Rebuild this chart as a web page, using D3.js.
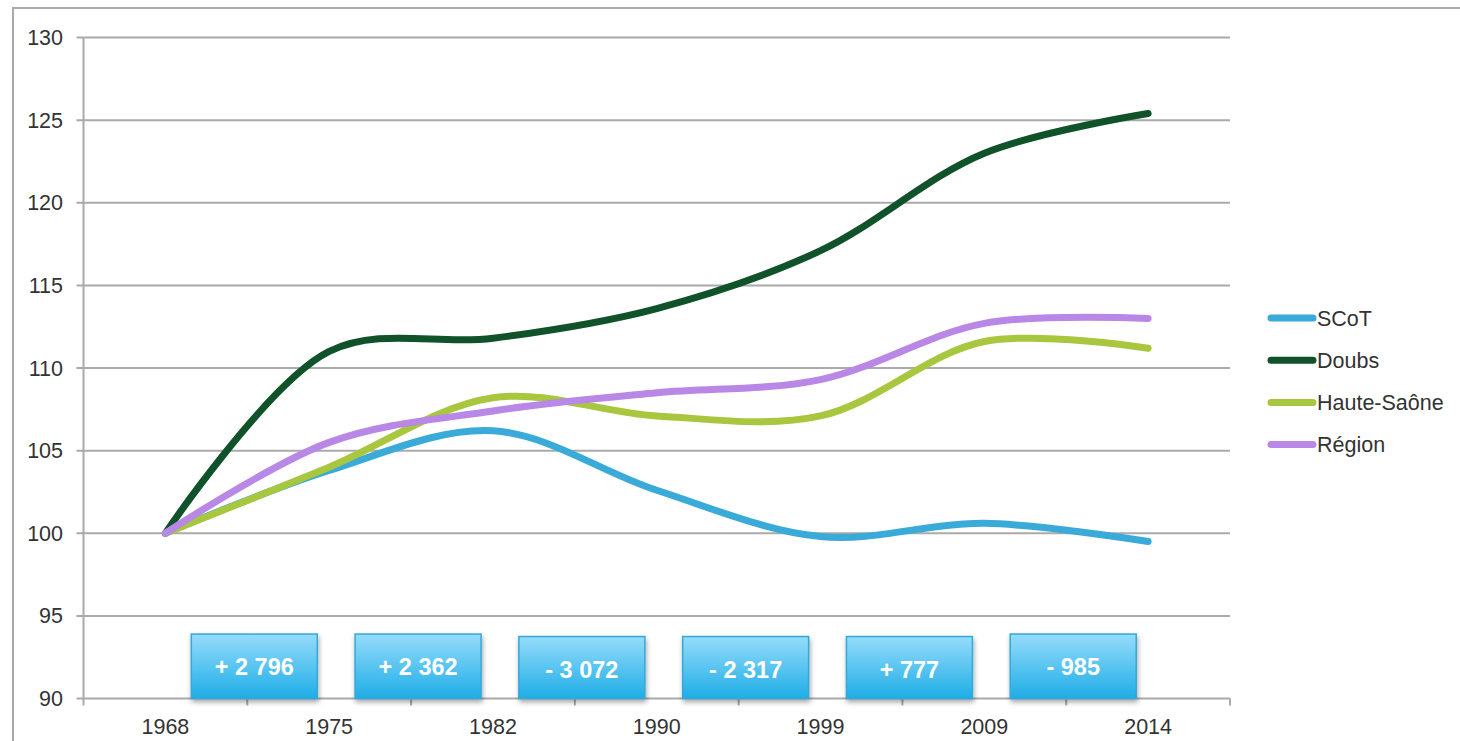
<!DOCTYPE html>
<html>
<head>
<meta charset="utf-8">
<script src="https://cdn.jsdelivr.net/npm/d3@7"></script>
<style>
  body { margin: 0; background: #fff; }
  text { font-family: "Liberation Sans", Arial, sans-serif; }
</style>
</head>
<body>
<div id="chart"></div>
<script>
const years = ['1968', '1975', '1982', '1990', '1999', '2009', '2014'];
const scot = [100, 103.8, 106.2, 102.6, 99.8, 100.6, 99.5];
const doubs = [100, 111.0, 111.8, 113.6, 117.1, 123.0, 125.4];
const hauteSaone = [100, 104.0, 108.2, 107.1, 107.1, 111.6, 111.2];
const region = [100, 105.5, 107.4, 108.5, 109.3, 112.7, 113.0];
const seriesNames = ['SCoT', 'Doubs', 'Haute-Saône', 'Région'];
const seriesColors = ['#3aaad8', '#10522a', '#a9c63f', '#b987e6'];
const changes = ['+ 2 796', '+ 2 362', '- 3 072', '- 2 317', '+ 777', '- 985'];
const yTicks = [90, 95, 100, 105, 110, 115, 120, 125, 130];

const width = 1460, height = 741;
const margin = { top: 37.5, left: 83.5, right: 230, bottom: 42.5 };

const svg = d3.select('#chart').append('svg')
  .attr('width', width)
  .attr('height', height);

// outer frame
svg.append('rect')
  .attr('x', 13).attr('y', 8)
  .attr('width', width + 20).attr('height', height + 20)
  .attr('fill', 'none').attr('stroke', '#aaa').attr('stroke-width', 2);

const x = d3.scaleBand()
  .domain(years)
  .range([margin.left, width - margin.right])
  .padding(0);

const y = d3.scaleLinear()
  .domain([90, 130])
  .range([height - margin.bottom, margin.top]);

const cx = d => x(d) + x.bandwidth() / 2;

// gridlines + y labels
const grid = svg.append('g');
grid.selectAll('line')
  .data(yTicks)
  .join('line')
  .attr('x1', margin.left - 7)
  .attr('x2', width - margin.right)
  .attr('y1', d => y(d)).attr('y2', d => y(d))
  .attr('stroke', '#aaa').attr('stroke-width', 2);

grid.selectAll('text')
  .data(yTicks)
  .join('text')
  .attr('x', 63)
  .attr('y', d => y(d) + 7.5)
  .attr('text-anchor', 'end')
  .attr('font-size', 21.5)
  .attr('fill', '#333')
  .text(d => d);

// y axis line
svg.append('line')
  .attr('x1', margin.left).attr('x2', margin.left)
  .attr('y1', y(130)).attr('y2', y(90))
  .attr('stroke', '#aaa').attr('stroke-width', 2);

// x axis ticks at band boundaries
const bounds = years.map(d => x(d)).concat([x(years[years.length - 1]) + x.bandwidth()]);
svg.append('g').selectAll('line')
  .data(bounds)
  .join('line')
  .attr('x1', d => d).attr('x2', d => d)
  .attr('y1', y(90)).attr('y2', y(90) + 7)
  .attr('stroke', '#aaa').attr('stroke-width', 2);

svg.append('g').selectAll('text')
  .data(years)
  .join('text')
  .attr('x', d => cx(d))
  .attr('y', 734)
  .attr('text-anchor', 'middle')
  .attr('font-size', 21.5)
  .attr('fill', '#333')
  .text(d => d);

// boxes
const defs = svg.append('defs');
const grad = defs.append('linearGradient')
  .attr('id', 'boxGrad')
  .attr('x1', 0).attr('y1', 0).attr('x2', 0).attr('y2', 1);
grad.append('stop').attr('offset', '0%').attr('stop-color', '#95dcfb');
grad.append('stop').attr('offset', '100%').attr('stop-color', '#1eade6');
const shadow = defs.append('filter').attr('id', 'shadow')
  .attr('x', '-10%').attr('y', '-10%').attr('width', '130%').attr('height', '140%');
shadow.append('feDropShadow')
  .attr('dx', 1).attr('dy', 3).attr('stdDeviation', 2.5)
  .attr('flood-color', '#000').attr('flood-opacity', 0.35);

const boxW = 126;
const boxTop = [93.9, 93.9, 93.75, 93.75, 93.75, 93.9];
const boxes = svg.append('g').selectAll('g')
  .data(changes)
  .join('g')
  .attr('transform', (d, i) => `translate(${bounds[i + 1] + 7 - boxW / 2},${y(boxTop[i])})`);

boxes.append('rect')
  .attr('width', boxW)
  .attr('height', (d, i) => y(90) - y(boxTop[i]))
  .attr('fill', 'url(#boxGrad)')
  .attr('stroke', '#35a8d8').attr('stroke-width', 1.5)
  .attr('filter', 'url(#shadow)');

boxes.append('text')
  .attr('x', boxW / 2)
  .attr('y', 41)
  .attr('text-anchor', 'middle')
  .attr('font-size', 23.5)
  .attr('font-weight', 'bold')
  .attr('fill', '#fff')
  .text(d => d);

// lines
const allSeries = [scot, doubs, hauteSaone, region];
const line = d3.line()
  .x((d, i) => cx(years[i]))
  .y(d => y(d))
  .curve(d3.curveCatmullRom.alpha(0.5));

svg.append('g').selectAll('path')
  .data(allSeries)
  .join('path')
  .attr('d', line)
  .attr('fill', 'none')
  .attr('stroke', (d, i) => seriesColors[i])
  .attr('stroke-width', 7)
  .attr('stroke-linecap', 'round')
  .attr('stroke-linejoin', 'round');

// legend
const legend = svg.append('g').selectAll('g')
  .data(seriesNames)
  .join('g')
  .attr('transform', (d, i) => `translate(1268,${318 + i * 42.2})`);

legend.append('line')
  .attr('x1', 3).attr('x2', 45)
  .attr('stroke', (d, i) => seriesColors[i])
  .attr('stroke-width', 7)
  .attr('stroke-linecap', 'round');

legend.append('text')
  .attr('x', 49)
  .attr('y', 7.5)
  .attr('font-size', 21.5)
  .attr('fill', '#333')
  .text(d => d);
</script>
</body>
</html>
